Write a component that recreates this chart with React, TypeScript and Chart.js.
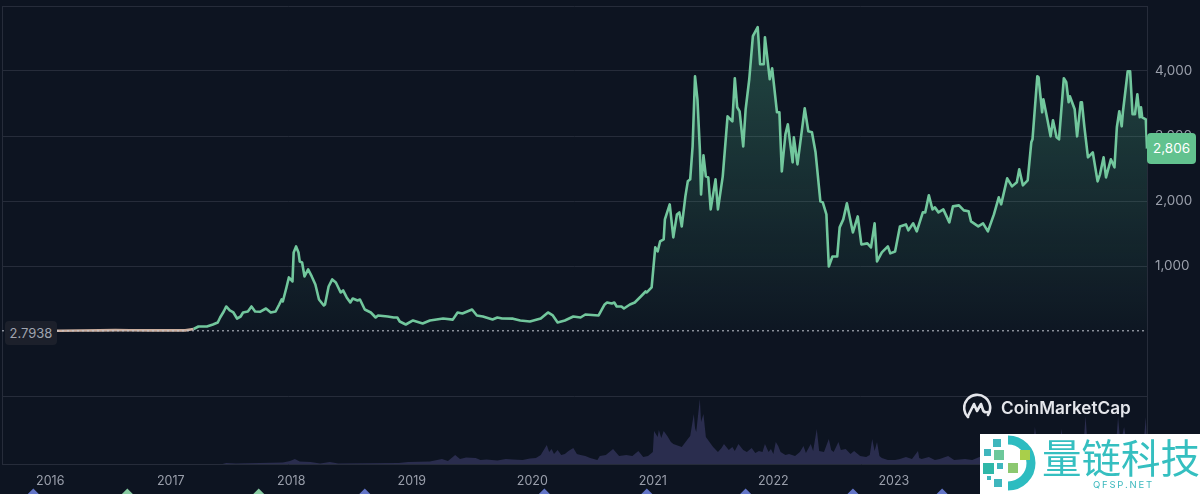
import { useEffect, useRef } from 'react';
import { Chart, registerables } from 'chart.js';

Chart.register(...registerables);

const priceDates = [
  2015.96, 2016.08, 2016.25, 2016.41, 2016.54, 2016.66, 2016.83, 2017.0, 2017.12, 2017.19, 2017.23, 2017.3, 2017.35, 2017.39, 2017.41, 2017.44, 2017.46, 2017.49, 2017.52, 2017.55,
  2017.58, 2017.6, 2017.64, 2017.67, 2017.7, 2017.74, 2017.79, 2017.83, 2017.87, 2017.9, 2017.92, 2017.93, 2017.96, 2017.98, 2018.01, 2018.02, 2018.04, 2018.06, 2018.07, 2018.09,
  2018.11, 2018.14, 2018.17, 2018.2, 2018.23, 2018.27, 2018.28, 2018.31, 2018.34, 2018.37, 2018.41, 2018.43, 2018.46, 2018.49, 2018.51, 2018.55, 2018.57, 2018.61, 2018.66, 2018.7,
  2018.72, 2018.8, 2018.85, 2018.88, 2018.9, 2018.95, 2019.01, 2019.09, 2019.15, 2019.26, 2019.34, 2019.38, 2019.42, 2019.5, 2019.54, 2019.59, 2019.67, 2019.71, 2019.75, 2019.84,
  2019.9, 2019.98, 2020.07, 2020.13, 2020.17, 2020.21, 2020.27, 2020.34, 2020.4, 2020.44, 2020.55, 2020.6, 2020.62, 2020.66, 2020.68, 2020.7, 2020.74, 2020.76, 2020.81, 2020.85,
  2020.9, 2020.94, 2020.95, 2020.99, 2021.02, 2021.04, 2021.06, 2021.09, 2021.1, 2021.14, 2021.17, 2021.2, 2021.22, 2021.24, 2021.27, 2021.29, 2021.31, 2021.33, 2021.35, 2021.37,
  2021.39, 2021.4, 2021.42, 2021.44, 2021.46, 2021.48, 2021.52, 2021.54, 2021.58, 2021.62, 2021.66, 2021.68, 2021.7, 2021.72, 2021.75, 2021.77, 2021.8, 2021.83, 2021.87, 2021.89,
  2021.92, 2021.93, 2021.97, 2021.99, 2022.03, 2022.05, 2022.07, 2022.1, 2022.12, 2022.16, 2022.17, 2022.2, 2022.26, 2022.29, 2022.32, 2022.35, 2022.39, 2022.41, 2022.44, 2022.46,
  2022.49, 2022.53, 2022.55, 2022.58, 2022.61, 2022.66, 2022.7, 2022.73, 2022.78, 2022.81, 2022.84, 2022.86, 2022.9, 2022.95, 2022.97, 2023.01, 2023.05, 2023.1, 2023.12, 2023.16,
  2023.19, 2023.24, 2023.26, 2023.29, 2023.32, 2023.34, 2023.37, 2023.41, 2023.46, 2023.49, 2023.54, 2023.58, 2023.62, 2023.64, 2023.7, 2023.74, 2023.78, 2023.83, 2023.87, 2023.89,
  2023.94, 2023.98, 2024.02, 2024.04, 2024.07, 2024.11, 2024.14, 2024.15, 2024.19, 2024.2, 2024.23, 2024.24, 2024.27, 2024.3, 2024.32, 2024.35, 2024.37, 2024.41, 2024.43, 2024.45,
  2024.46, 2024.5, 2024.52, 2024.55, 2024.56, 2024.58, 2024.61, 2024.65, 2024.69, 2024.71, 2024.74, 2024.76, 2024.8, 2024.83, 2024.85, 2024.87, 2024.89, 2024.9, 2024.94, 2024.96,
  2024.98, 2025.0, 2025.02, 2025.04, 2025.05, 2025.06, 2025.09, 2025.1,
];
const priceValues = [
  3, 5, 8, 10, 14, 12, 10, 9, 10, 31, 69, 69, 100, 131, 208, 300, 377, 316, 285, 192,
  223, 285, 300, 377, 300, 295, 346, 285, 300, 408, 485, 454, 670, 824, 762, 1209, 1301, 1209, 1070, 1055,
  839, 947, 839, 716, 485, 393, 408, 685, 793, 747, 593, 624, 516, 439, 500, 470, 485, 331, 285, 208,
  239, 223, 208, 208, 146, 100, 162, 116, 162, 192, 175, 285, 270, 331, 239, 223, 177, 208, 192, 190,
  162, 146, 192, 285, 239, 131, 162, 223, 208, 254, 239, 408, 439, 424, 439, 377, 377, 346, 408, 439,
  531, 608, 593, 670, 1286, 1224, 1378, 1409, 1717, 1948, 1440, 1794, 1825, 1609, 2071, 2302, 2333, 2841, 3919, 3565,
  2795, 2102, 2703, 2379, 2364, 1871, 2333, 1871, 2379, 3303, 3226, 3889, 3442, 3380, 2841, 3411, 3873, 4535, 4674, 4104,
  4104, 4520, 3873, 4042, 3365, 3365, 2456, 3026, 3180, 2595, 2980, 2564, 3426, 3072, 3057, 2749, 1994, 1979, 1794, 993,
  1147, 1147, 1594, 1717, 1964, 1517, 1763, 1332, 1348, 1286, 1656, 1070, 1209, 1301, 1194, 1224, 1609, 1640, 1548, 1656,
  1532, 1825, 1825, 2087, 1871, 1902, 1825, 1871, 1671, 1917, 1933, 1856, 1841, 1686, 1609, 1656, 1532, 1794, 2056, 1948,
  2348, 2225, 2287, 2487, 2241, 2318, 2903, 2949, 3919, 3904, 3365, 3565, 3288, 2995, 3242, 2980, 2949, 3889, 3827, 3519,
  3611, 3411, 2995, 3519, 3519, 3149, 2672, 2749, 2302, 2410, 2672, 2364, 2641, 2518, 3134, 3380, 3149, 3365, 3996, 3996,
  3334, 3334, 3642, 3288, 3442, 3288, 3257, 2806,
];

const volumeDates = [
  2017.43, 2017.46, 2017.54, 2017.93, 2017.99, 2018.03, 2018.07, 2018.16, 2018.24, 2018.32, 2018.39, 2018.89, 2018.97, 2019.15, 2019.25, 2019.3, 2019.36, 2019.4, 2019.45, 2019.53,
  2019.57, 2019.62, 2019.71, 2019.78, 2019.84, 2019.92, 2019.98, 2020.03, 2020.07, 2020.12, 2020.14, 2020.16, 2020.18, 2020.21, 2020.24, 2020.27, 2020.3, 2020.34, 2020.37, 2020.4,
  2020.44, 2020.48, 2020.54, 2020.56, 2020.61, 2020.67, 2020.72, 2020.78, 2020.83, 2020.88, 2020.92, 2020.96, 2021.0, 2021.01, 2021.04, 2021.05, 2021.07, 2021.09, 2021.12, 2021.15,
  2021.17, 2021.24, 2021.29, 2021.31, 2021.34, 2021.35, 2021.36, 2021.39, 2021.4, 2021.42, 2021.44, 2021.47, 2021.5, 2021.54, 2021.57, 2021.59, 2021.63, 2021.66, 2021.68, 2021.71,
  2021.75, 2021.78, 2021.82, 2021.85, 2021.88, 2021.91, 2021.93, 2021.96, 2021.98, 2022.0, 2022.02, 2022.04, 2022.06, 2022.1, 2022.13, 2022.18, 2022.22, 2022.25, 2022.27, 2022.31,
  2022.33, 2022.36, 2022.38, 2022.42, 2022.46, 2022.48, 2022.5, 2022.54, 2022.56, 2022.6, 2022.64, 2022.67, 2022.72, 2022.77, 2022.8, 2022.82, 2022.84, 2022.86, 2022.88, 2022.9,
  2022.95, 2023.01, 2023.05, 2023.1, 2023.15, 2023.2, 2023.21, 2023.23, 2023.29, 2023.34, 2023.38, 2023.45, 2023.5, 2023.59, 2023.65, 2023.71, 2023.8, 2023.97, 2024.15, 2024.17,
  2024.2, 2024.37, 2024.39, 2024.41, 2024.57, 2024.59, 2024.61, 2024.84, 2024.86, 2024.88, 2024.91, 2024.94, 2025.07, 2025.09, 2025.1,
];
const volumeValues = [
  0, 1, 0.5, 1.5, 3, 5, 2.5, 2, 0.5, 2, 0.5, 1, 2, 2.5, 5, 3, 9, 5, 6.5, 6,
  4, 4.5, 3.5, 5, 4.5, 4, 5.5, 6, 9, 19, 12, 15, 10, 14, 9, 10, 13, 16, 10, 9,
  8, 6, 4, 8, 9, 15, 8, 9, 8, 13, 7, 8, 12, 33, 27, 34, 26, 33, 28, 22,
  20, 17, 25, 28, 50, 36, 32, 65, 42, 50, 27, 22, 17, 12, 16, 20, 14, 17, 13, 20,
  14, 12, 16, 11, 13, 12, 20, 12, 15, 10, 22, 18, 12, 9, 10, 8, 12, 18, 11, 20,
  13, 35, 13, 12, 25, 14, 12, 22, 14, 15, 10, 13, 8, 7, 9, 25, 13, 22, 8, 6,
  4, 4, 5, 7, 5, 13, 6, 5, 7, 4, 5, 8, 4, 5, 4, 7, 6, 8, 12, 37,
  10, 12, 35, 12, 14, 48, 14, 15, 47, 20, 37, 15, 18, 47, 20,
];

const startPrice = 2.7938;
const lastPrice = 2806;
const xRange = [2015.6, 2025.1];
const xTicks = [2015.6, 2016, 2017, 2018, 2019, 2020, 2021, 2022, 2023, 2024];
const yTicks = [-1000, 0, 1000, 2000, 3000, 4000, 5000];

const eventDates = [2015.86, 2016.64, 2017.73, 2018.61, 2020.1, 2020.95, 2021.77, 2022.66, 2023.4];
const eventColors = ['#6274c6', '#86c9a0', '#86c9a0', '#6274c6', '#6274c6', '#6274c6', '#6274c6', '#6274c6', '#6274c6'];

const BG = '#0d1421';
const GRID = '#262c3a';
const GREEN = '#72c79d';
const TICK = '#9a9fab';
const FONT = 'Inter, sans-serif';

// the little diamonds sit under the year labels, outside the chart area
const eventMarkers = {
  id: 'eventMarkers',
  afterDatasetsDraw(chart: Chart) {
    const { ctx, scales, chartArea } = chart;
    const y = chartArea.bottom + 30;
    eventDates.forEach((d, i) => {
      const x = scales.x.getPixelForValue(d);
      ctx.save();
      ctx.fillStyle = eventColors[i];
      ctx.beginPath();
      ctx.moveTo(x, y - 5.5);
      ctx.lineTo(x + 5.5, y);
      ctx.lineTo(x, y + 5.5);
      ctx.lineTo(x - 5.5, y);
      ctx.closePath();
      ctx.fill();
      ctx.restore();
    });
  },
};

function PriceChart() {
  const canvasRef = useRef<HTMLCanvasElement>(null);

  useEffect(() => {
    if (!canvasRef.current) return;

    const chart = new Chart(canvasRef.current, {
      type: 'line',
      plugins: [eventMarkers],
      data: {
        datasets: [
          {
            data: volumeDates.map((d, i) => ({ x: d, y: volumeValues[i] })),
            yAxisID: 'yVol',
            borderWidth: 0,
            pointRadius: 0,
            backgroundColor: '#2a2d4e',
            fill: 'origin',
          },
          {
            data: xRange.map(d => ({ x: d, y: startPrice })),
            yAxisID: 'y',
            borderColor: '#c4c8d2',
            borderWidth: 1,
            borderDash: [2, 3],
            pointRadius: 0,
            fill: false,
          },
          {
            data: priceDates.map((d, i) => ({ x: d, y: priceValues[i] })),
            yAxisID: 'y',
            borderColor: GREEN,
            borderWidth: 2.6,
            borderJoinStyle: 'round',
            pointRadius: 0,
            tension: 0,
            segment: {
              borderColor: c => (c.p0.parsed.x < 2017.15 ? '#c9ad9e' : GREEN),
            },
            fill: { value: startPrice },
            backgroundColor: c => {
              const { chartArea, scales, ctx } = c.chart;
              if (!chartArea) return 'transparent';
              const g = ctx.createLinearGradient(0, scales.y.getPixelForValue(4700), 0, scales.y.getPixelForValue(0));
              g.addColorStop(0, 'rgba(84,190,145,0.30)');
              g.addColorStop(1, 'rgba(84,190,145,0.02)');
              return g;
            },
          },
        ],
      },
      options: {
        responsive: false,
        animation: false,
        layout: { padding: { top: 6, left: 2 } },
        plugins: { legend: { display: false }, tooltip: { enabled: false } },
        scales: {
          x: {
            type: 'linear',
            min: xRange[0],
            max: xRange[1],
            afterBuildTicks: axis => { axis.ticks = xTicks.map(value => ({ value })); },
            afterFit: axis => {
              axis.height = 30;
              axis.paddingLeft = 0;
              axis.paddingRight = 0;
            },
            border: { color: GRID },
            grid: {
              drawTicks: false,
              color: c => (c.tick.value === xRange[0] ? GRID : 'transparent'),
            },
            ticks: {
              color: TICK,
              padding: 10,
              maxRotation: 0,
              autoSkip: false,
              font: { family: FONT, size: 12.5 },
              callback: v => (Number(v) < 2016 ? '' : String(v)),
            },
          },
          y: {
            position: 'right',
            stack: 'main',
            stackWeight: 390,
            min: yTicks[0],
            max: yTicks[yTicks.length - 1],
            afterBuildTicks: axis => { axis.ticks = yTicks.map(value => ({ value })); },
            afterFit: axis => {
              axis.width = 53;
              axis.paddingTop = 0;
              axis.paddingBottom = 0;
            },
            border: { color: GRID },
            grid: {
              drawTicks: false,
              color: c => (c.tick.value === 0 ? 'transparent' : GRID),
            },
            ticks: {
              color: TICK,
              padding: 8,
              font: { family: FONT, size: 13.5 },
              callback: v => (Number(v) >= 1000 && Number(v) <= 4000 ? Number(v).toLocaleString('en-US') : ''),
            },
          },
          yVol: {
            position: 'right',
            stack: 'main',
            stackWeight: 68,
            min: 0,
            max: 68,
            afterFit: axis => {
              axis.width = 53;
              axis.paddingTop = 0;
              axis.paddingBottom = 0;
            },
            border: { color: GRID },
            grid: { display: false },
            ticks: { display: false },
          },
        },
      },
    });

    return () => { chart.destroy(); };
  }, []);

  return <canvas ref={canvasRef} width={1200} height={494} style={{ display: 'block', position: 'absolute', left: 0, top: 0 }} />;
}

function CmcLogo() {
  return (
    <div style={{ position: 'absolute', left: 963, top: 393, display: 'flex', alignItems: 'center', gap: 9, color: '#e4e6eb' }}>
      <svg width="29" height="29" viewBox="0 0 29 29" fill="none" stroke="#e4e6eb" strokeWidth="2.6" strokeLinecap="round" strokeLinejoin="round">
        <path d="M 5 24 A 13 13 0 1 1 25 22" />
        <path d="M 5 23 L 11 11 L 14 18 L 18 11 L 20 17 Q 21 20 25 19" />
      </svg>
      <span style={{ fontFamily: FONT, fontWeight: 600, fontSize: 17.2, whiteSpace: 'nowrap' }}>CoinMarketCap</span>
    </div>
  );
}

function Watermark() {
  return (
    <div style={{ position: 'absolute', left: 980, top: 434, width: 220, height: 60, background: '#fff', overflow: 'hidden' }}>
      <svg width="60" height="60" viewBox="0 0 60 60" style={{ position: 'absolute', left: 0, top: 0 }}>
        <path d="M 28 6 A 23 23 0 0 1 28 52" fill="none" stroke="#2dbcc0" strokeWidth="9" />
        <rect x="13" y="5" width="8" height="8" fill="#3fb6bd" />
        <rect x="4" y="15" width="7" height="7" fill="#3fb6bd" />
        <rect x="14" y="16" width="10" height="10" fill="#6cc89a" />
        <rect x="40" y="16" width="10" height="10" fill="#a9cf4a" />
        <rect x="3" y="29" width="11" height="11" fill="#2fb7a8" />
        <rect x="17" y="29" width="6" height="6" fill="#3fb6bd" />
        <rect x="28" y="29" width="10" height="10" fill="#8cc870" />
        <rect x="7" y="42" width="4" height="4" fill="#3fb6bd" />
        <rect x="14" y="45" width="8" height="8" fill="#3fb6bd" />
      </svg>
      <span style={{ position: 'absolute', left: 62, top: -8, fontFamily: '"Noto Sans CJK SC", sans-serif', fontSize: 39.5, color: '#35bfc0', whiteSpace: 'nowrap', lineHeight: '60px' }}>量链科技</span>
      <span style={{ position: 'absolute', left: 113, top: 45, fontFamily: FONT, fontSize: 9.5, letterSpacing: 1.8, color: '#3bb8bd', whiteSpace: 'nowrap' }}>QFSP.NET</span>
    </div>
  );
}

export default function App() {
  return (
    <div style={{ position: 'absolute', left: 0, top: 0, width: 1200, height: 494, overflow: 'hidden', background: BG }}>
      <PriceChart />
      <div style={{ position: 'absolute', left: 5, top: 321, width: 52, height: 24, lineHeight: '24px', borderRadius: 4, background: '#1c202b', color: '#a0a4af', fontFamily: FONT, fontSize: 13, textAlign: 'center' }}>
        {startPrice}
      </div>
      <div style={{ position: 'absolute', left: 1147, top: 133, width: 49, height: 31, lineHeight: '31px', borderRadius: 4, background: '#62c28f', color: '#fff', fontFamily: FONT, fontSize: 13.5, textAlign: 'center' }}>
        {lastPrice.toLocaleString('en-US')}
      </div>
      <CmcLogo />
      <Watermark />
    </div>
  );
}
